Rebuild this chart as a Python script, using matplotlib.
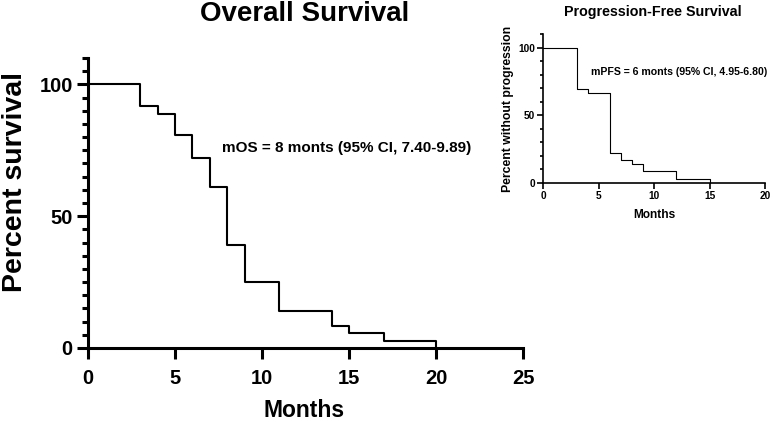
import matplotlib
matplotlib.use("Agg")
import matplotlib.pyplot as plt
from matplotlib.ticker import MultipleLocator

plt.rcParams['font.family'] = ['Liberation Sans', 'DejaVu Sans']
plt.rcParams['font.weight'] = 'bold'

# overall survival (Kaplan-Meier steps)
os_months = [0, 3, 4, 5, 6, 7, 8, 9, 11, 14, 15, 17, 20]
os_pct = [100, 91.7, 88.9, 80.6, 72.2, 61.1, 38.9, 25.0, 13.9, 8.3, 5.6, 2.8, 0]
os_text = "mOS = 8 monts (95% CI, 7.40-9.89)"

# progression-free survival
pfs_months = [0, 3, 4, 6, 7, 8, 9, 12, 15]
pfs_pct = [100, 69.4, 66.7, 22.2, 16.7, 13.9, 8.3, 2.8, 0]
pfs_text = "mPFS = 6 monts (95% CI, 4.95-6.80)"

fig = plt.figure(figsize=(7.73, 4.22), dpi=100)

# main plot
ax = fig.add_axes([0.1138, 0.1754, 0.5628, 0.6872])
ax.step(os_months, os_pct, where='post', color='black', lw=1.5, clip_on=False)
ax.set_xlim(0, 25)
ax.set_ylim(0, 110)
ax.set_xticks([0, 5, 10, 15, 20, 25])
ax.set_yticks([0, 50, 100])
ax.yaxis.set_minor_locator(MultipleLocator(5))
for s in ['top', 'right']:
    ax.spines[s].set_visible(False)
for s in ['left', 'bottom']:
    ax.spines[s].set_linewidth(2.2)
ax.tick_params(axis='both', which='major', length=8, width=2.2, labelsize=14.5)
ax.tick_params(axis='x', pad=7)
ax.tick_params(axis='y', pad=3)
ax.tick_params(axis='y', which='minor', length=4, width=2.2)
ax.set_xlabel("Months", fontsize=16.5, fontweight='bold')
ax.set_ylabel("Percent survival", fontsize=20.5, fontweight='bold')
ax.xaxis.set_label_coords(0.4966, -0.215)
ax.xaxis.label.set_va('center')
ax.yaxis.set_label_coords(-0.168, 0.574)
ax.yaxis.label.set_va('center')
ax.text(7.7, 76, os_text, fontsize=11, fontweight='bold', va='center', ha='left')
fig.text(0.394, 0.966, "Overall Survival", fontsize=20, fontweight='bold', ha='center', va='center')

# inset PFS
ax2 = fig.add_axes([0.7029, 0.5671, 0.2868, 0.3516])
ax2.step(pfs_months, pfs_pct, where='post', color='black', lw=0.8, clip_on=False)
ax2.set_xlim(0, 20)
ax2.set_ylim(0, 110)
ax2.set_xticks([0, 5, 10, 15, 20])
ax2.set_yticks([0, 50, 100])
ax2.yaxis.set_minor_locator(MultipleLocator(10))
for s in ['top', 'right']:
    ax2.spines[s].set_visible(False)
for s in ['left', 'bottom']:
    ax2.spines[s].set_linewidth(1.2)
ax2.tick_params(axis='both', which='major', length=4, width=1.2, labelsize=7.3, pad=2)
ax2.tick_params(axis='y', which='minor', length=2.5, width=1.2)
ax2.set_xlabel("Months", fontsize=8.6, fontweight='bold', labelpad=6)
ax2.set_ylabel("Percent without progression", fontsize=8.8, fontweight='bold', labelpad=3)
ax2.text(4.3, 82, pfs_text, fontsize=7.6, fontweight='bold', va='center', ha='left')
fig.text(0.845, 0.972, "Progression-Free Survival", fontsize=10.3, fontweight='bold', ha='center', va='center')

fig.savefig("out.png", dpi=100)
